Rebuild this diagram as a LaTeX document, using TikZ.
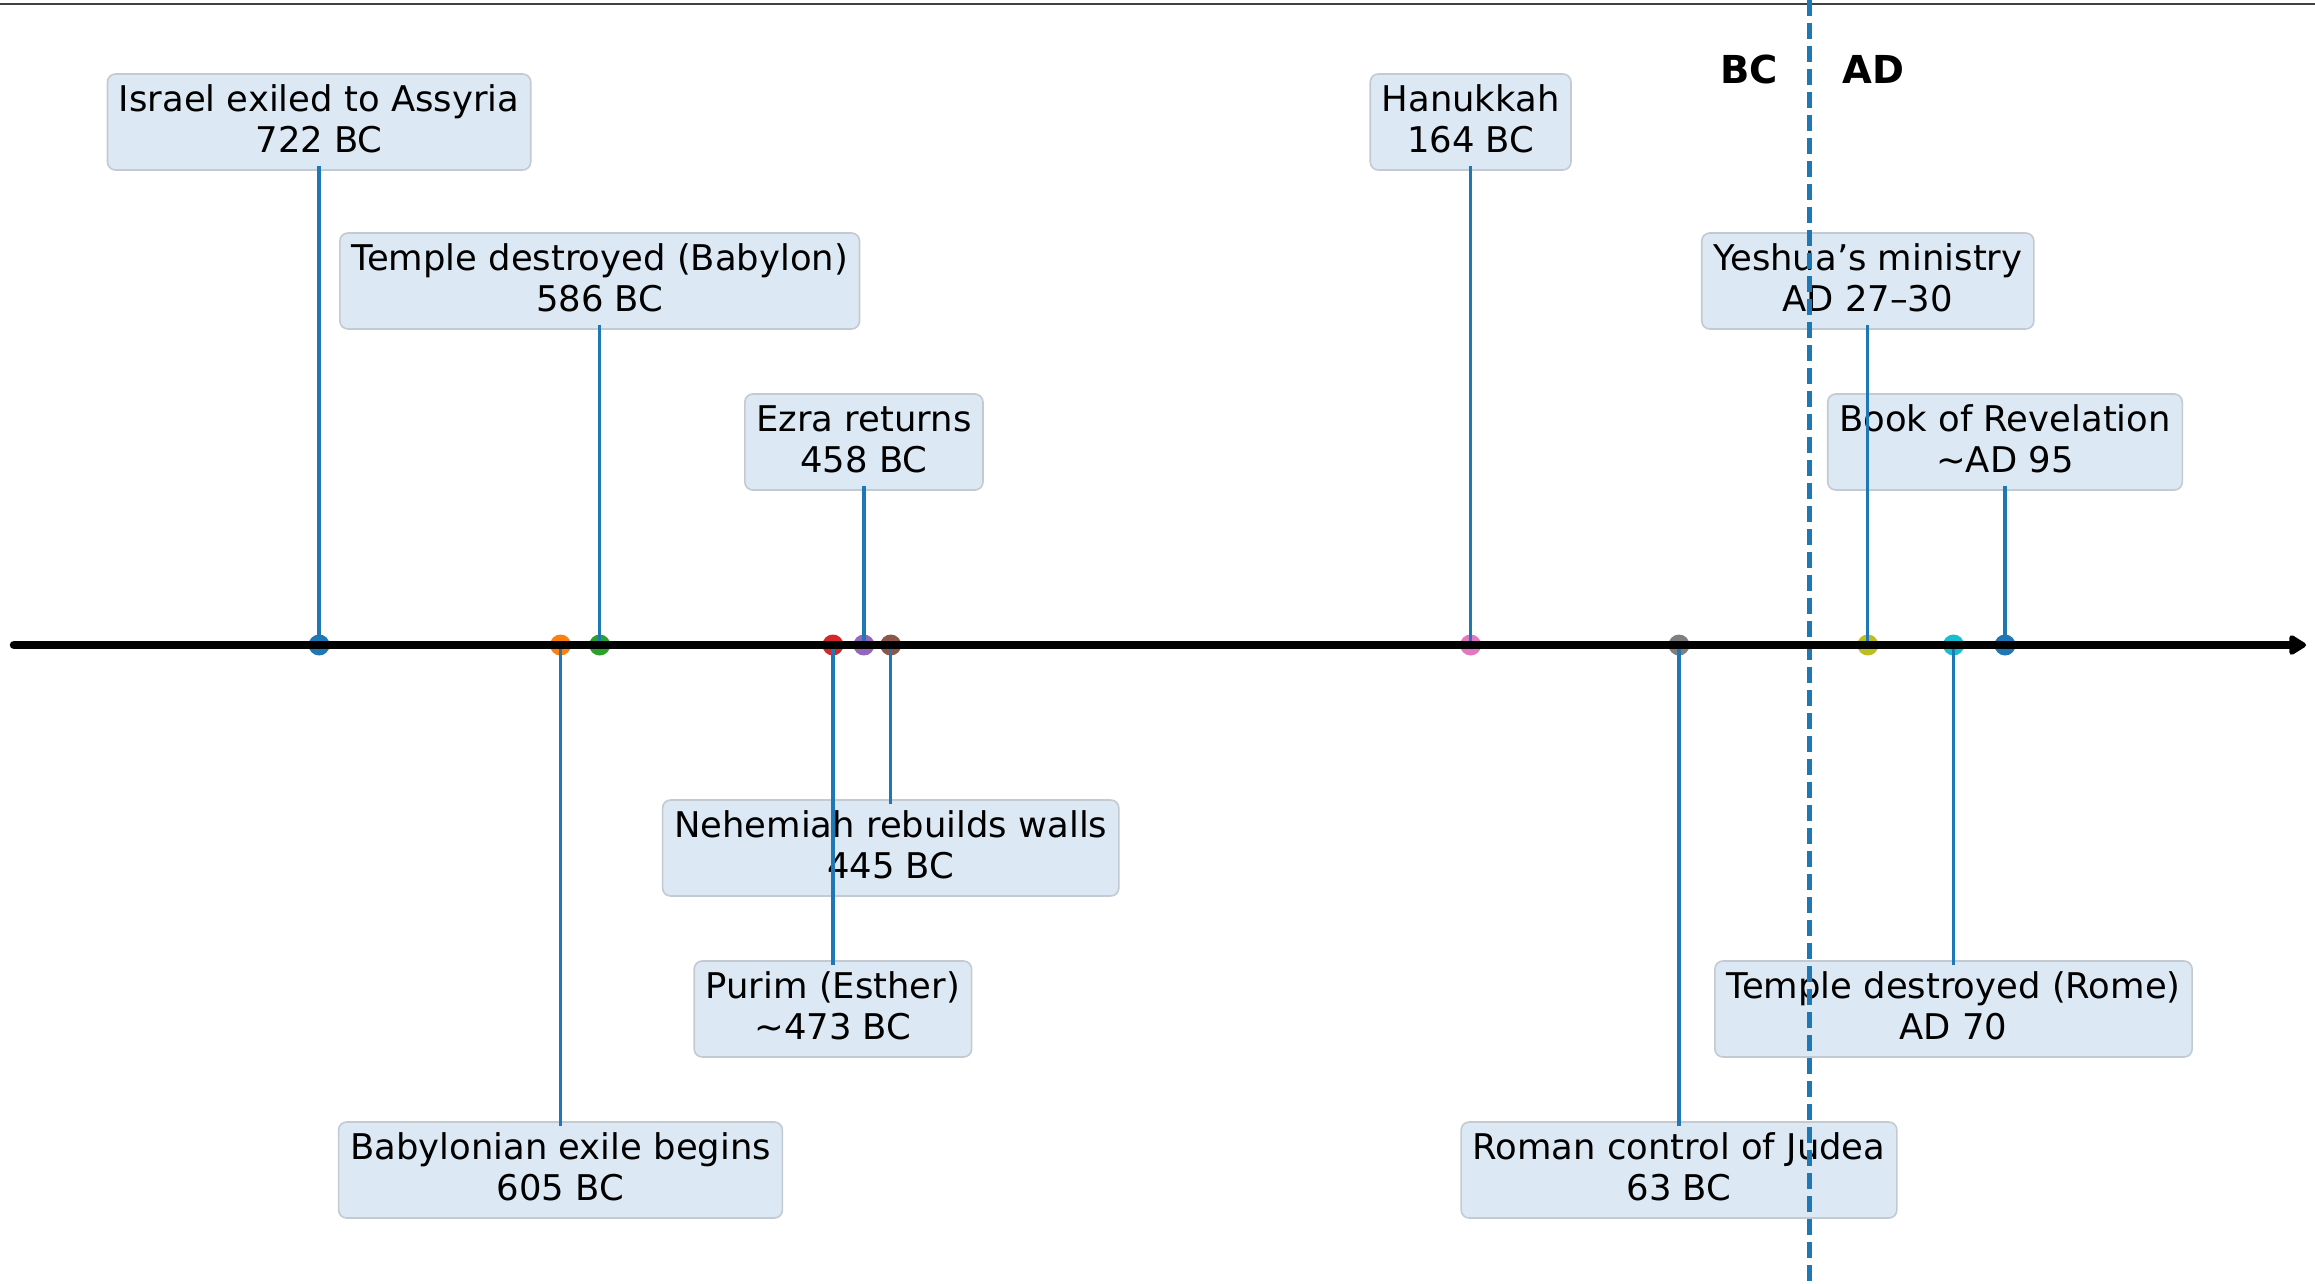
\documentclass[tikz,border=0pt]{standalone}
\usepackage{fontspec}
\setmainfont{DejaVu Sans}
\usetikzlibrary{arrows.meta}
\definecolor{tabblue}{HTML}{1F77B4}
\definecolor{taborange}{HTML}{FF7F0E}
\definecolor{tabgreen}{HTML}{2CA02C}
\definecolor{tabred}{HTML}{D62728}
\definecolor{tabpurple}{HTML}{9467BD}
\definecolor{tabbrown}{HTML}{8C564B}
\definecolor{tabpink}{HTML}{E377C2}
\definecolor{tabgray}{HTML}{7F7F7F}
\definecolor{tabolive}{HTML}{BCBD22}
\definecolor{tabcyan}{HTML}{17BECF}
\definecolor{boxfill}{HTML}{DCE8F3}
\definecolor{boxedge}{HTML}{C4CAD1}
\newcommand\evfont{\fontsize{35.4}{41}\selectfont}
\newcommand\evstrut{\rule[-11pt]{0pt}{41pt}}
\tikzset{
  evbox/.style={draw=boxedge, fill=boxfill, rounded corners=8pt, line width=1.6pt,
    minimum height=96pt, inner xsep=11.5pt, inner ysep=7pt, align=center, font=\evfont},
  evstem/.style={draw=tabblue, line width=3.3pt},
  evdot/.style={circle, inner sep=0pt, minimum size=21pt, fill=#1, draw=none},
  eraline/.style={draw=tabblue, line width=4.3pt, dash pattern=on 16pt off 7pt},
  eralabel/.style={font=\fontsize{38.5}{45}\selectfont\bfseries, inner sep=0pt},
}
\begin{document}
\begin{tikzpicture}[x=1pt,y=-1pt]
\useasboundingbox[fill=white] (0,0) rectangle (2315,1283);
% top border line
\coordinate (tl) at (0,4);
\coordinate (tr) at (2315,4);
\draw[line width=2.5pt, color=black!75] (tl) -- (tr);

% boxes
\node[evbox] (b1)  at (319.1,122)  {\evstrut Israel exiled to Assyria\\\evstrut 722 BC};
\node[evbox] (b2)  at (599.7,281)  {\evstrut Temple destroyed (Babylon)\\\evstrut 586 BC};
\node[evbox] (b3)  at (863.9,442)  {\evstrut Ezra returns\\\evstrut 458 BC};
\node[evbox] (b4)  at (1470.6,122) {\evstrut Hanukkah\\\evstrut 164 BC};
\node[evbox] (b5)  at (1867.8,281) {\evstrut Yeshua’s ministry\\\evstrut AD 27–30};
\node[evbox] (b6)  at (2005,442)   {\evstrut Book of Revelation\\\evstrut \textasciitilde AD 95};
\node[evbox] (b7)  at (890.7,848)  {\evstrut Nehemiah rebuilds walls\\\evstrut 445 BC};
\node[evbox] (b8)  at (832.9,1009) {\evstrut Purim (Esther)\\\evstrut \textasciitilde 473 BC};
\node[evbox] (b9)  at (560.5,1170) {\evstrut Babylonian exile begins\\\evstrut 605 BC};
\node[evbox] (b10) at (1953.5,1009){\evstrut Temple destroyed (Rome)\\\evstrut AD 70};
\node[evbox] (b11) at (1679,1170)  {\evstrut Roman control of Judea\\\evstrut 63 BC};

% dots
\node[evdot=tabblue]   (d1)  at (319.1,645) {};
\node[evdot=taborange] (d9)  at (560.5,645) {};
\node[evdot=tabgreen]  (d2)  at (599.7,645) {};
\node[evdot=tabred]    (d8)  at (832.9,645) {};
\node[evdot=tabpurple] (d3)  at (863.9,645) {};
\node[evdot=tabbrown]  (d7)  at (890.7,645) {};
\node[evdot=tabpink]   (d4)  at (1470.6,645) {};
\node[evdot=tabgray]   (d11) at (1679,645) {};
\node[evdot=tabolive]  (d5)  at (1867.8,645) {};
\node[evdot=tabcyan]   (d10) at (1953.5,645) {};
\node[evdot=tabblue]   (d6)  at (2005,645) {};

% stems
\draw[evstem] ([yshift=5pt]b1.south) -- (d1.center);
\draw[evstem] ([yshift=5pt]b2.south) -- (d2.center);
\draw[evstem] ([yshift=5pt]b3.south) -- (d3.center);
\draw[evstem] ([yshift=5pt]b4.south) -- (d4.center);
\draw[evstem] ([yshift=5pt]b5.south) -- (d5.center);
\draw[evstem] ([yshift=5pt]b6.south) -- (d6.center);
\draw[evstem] ([yshift=-5pt]b7.north) -- (d7.center);
\draw[evstem] ([yshift=-5pt]b8.north) -- (d8.center);
\draw[evstem] ([yshift=-5pt]b9.north) -- (d9.center);
\draw[evstem] ([yshift=-5pt]b10.north) -- (d10.center);
\draw[evstem] ([yshift=-5pt]b11.north) -- (d11.center);

% BC / AD divider
\coordinate (eratop) at (1809.5,0);
\coordinate (erabot) at (1809.5,1283);
\draw[eraline] (eratop) -- (erabot);
\node[eralabel, anchor=east] (bc) at (1778,69) {BC};
\node[eralabel, anchor=west] (ad) at (1842,69) {AD};

% axis
\coordinate (axstart) at (14,645);
\coordinate (axend) at (2306,645);
\draw[line width=8.5pt, line cap=round, -{Triangle[length=19pt,width=22pt,round]}] (axstart) -- (axend);
\end{tikzpicture}
\end{document}
